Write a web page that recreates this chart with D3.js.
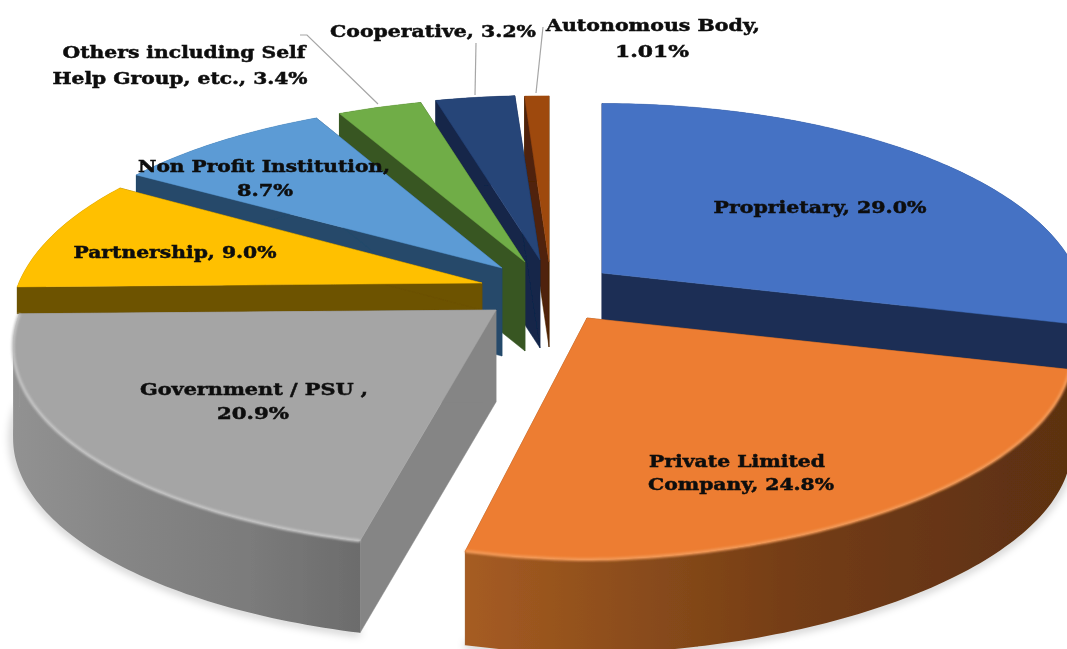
<!DOCTYPE html>
<html><head><meta charset="utf-8">
<script src="https://cdn.jsdelivr.net/npm/d3@7"></script>
<style>html,body{margin:0;padding:0;background:#fff;overflow:hidden}svg{display:block}</style>
</head><body><svg id="c" width="1067" height="649"></svg>
<script>
// ---- data ----
const categories = ["Proprietary","Private Limited Company","Government / PSU","Partnership","Non Profit Institution","Others including Self Help Group, etc.","Cooperative","Autonomous Body"];
const shares = [29.0,24.8,20.9,9.0,8.7,3.4,3.2,1.01];
// ---- style ----
const topColors  = ["#4472c4","#ed7d31","#a5a5a5","#ffc000","#5b9bd5","#70ad47","#264478","#9e480e"];
const sideColors = ["#1c2f55","#8a4a1c","#858585","#6d5200","#25496b","#385723","#13264a","#4f2407"];
// ---- layout of the exploded slices ----
const apexX = [602,587,496,482,502,525,540,549];
const apexY = [273,318,310,283,268,262,260,262];
const scaleRx = [1.015,1.02,1.015,0.99,1,1,1,0.97];
const scaleRy = [1,0.99,0.98,1,0.98,0.97,0.97,0.98];
const sinPower = [1,1.08,1,1,1,1,1,1];
const drawOrder = [7,6,5,4,3,2,0,1];
const RX=468, RY=200, PERSP=0.18, DEPTH=[62,94,92,27,88,89,88,85];
const labelLines = [
 {t:"Cooperative, 3.2%",x:433,y:37,w:206},
 {t:"Autonomous Body,",x:653,y:31,w:214},
 {t:"1.01%",x:652,y:57,w:74},
 {t:"Others including Self",x:184,y:58,w:243},
 {t:"Help Group, etc., 3.4%",x:180,y:84,w:255},
 {t:"Non Profit Institution,",x:264,y:172,w:252},
 {t:"8.7%",x:265,y:196,w:56},
 {t:"Partnership, 9.0%",x:175,y:258,w:203},
 {t:"Proprietary, 29.0%",x:820,y:213,w:213},
 {t:"Government / PSU ,",x:254,y:395,w:228},
 {t:"20.9%",x:253,y:419,w:72},
 {t:"Private Limited",x:737,y:467,w:176},
 {t:"Company, 24.8%",x:741,y:490,w:186}
];
const leaders = [
 [[300,35],[307,35],[378,104]],
 [[476,43],[475,95]],
 [[543,27],[536,93]]
];

const svg = d3.select("#c");
const defs = svg.append("defs");
function grad(id,stops){
  const g=defs.append("linearGradient").attr("id",id).attr("gradientUnits","userSpaceOnUse")
    .attr("x1",stops[0][0]).attr("x2",stops[stops.length-1][0]).attr("y1",0).attr("y2",0);
  const a=stops[0][0],b=stops[stops.length-1][0];
  stops.forEach(s=>g.append("stop").attr("offset",(s[0]-a)/(b-a)).attr("stop-color",s[1]));
  return `url(#${id})`;
}
const outerFill = {
  1: grad("gO",[[465,"#a65c22"],[640,"#8a4c1b"],[800,"#733c15"],[1067,"#5c3011"]]),
  2: grad("gG",[[10,"#929292"],[120,"#868686"],[250,"#7b7b7b"],[360,"#6c6c6c"]])
};
defs.append("filter").attr("id","soft").append("feGaussianBlur").attr("stdDeviation",0.5);
defs.append("filter").attr("id","soft2").append("feGaussianBlur").attr("stdDeviation",1.2);
defs.append("filter").attr("id","softText").append("feGaussianBlur").attr("stdDeviation",0.3);
defs.append("filter").attr("id","shadow").attr("x","-10%").attr("y","-30%").attr("width","120%").attr("height","160%")
  .append("feGaussianBlur").attr("stdDeviation",4);

const pie = d3.pie().sort(null).startAngle(0).endAngle(2*Math.PI).value(d=>d);
const arcs = pie(shares);

function project(i,theta,r){
  const c=Math.cos(theta), s=Math.sin(theta), k=1/(1+PERSP*c*r);
  const sp=Math.sign(s)*Math.pow(Math.abs(s),sinPower[i]);
  return [apexX[i]+RX*scaleRx[i]*r*sp*k, apexY[i]-RY*scaleRy[i]*r*c*k];
}
const line = d3.line();
const marks = svg.append("g").attr("filter","url(#soft)");

drawOrder.forEach(i=>{
  const a=arcs[i], n=Math.max(8,Math.round((a.endAngle-a.startAngle)*60));
  const arcPts=d3.range(n+1).map(j=>project(i,a.startAngle+(a.endAngle-a.startAngle)*j/n,1));
  const apex=project(i,0,0), d=DEPTH[i];
  const down=p=>[p[0],p[1]+d];
  const g=marks.append("g");
  if(i===1||i===2){
    g.append("path").attr("d",line(arcPts.map(down))).attr("fill","none")
      .attr("stroke","#000").attr("stroke-opacity",0.28).attr("stroke-width",5).attr("filter","url(#shadow)");
  }
  [arcPts[0],arcPts[n]].forEach(p=>{
    g.append("path").attr("d",line([apex,p,down(p),down(apex)])+"Z")
      .attr("fill",sideColors[i]).attr("stroke",sideColors[i]).attr("stroke-width",0.5);
  });
  const rim=outerFill[i]||sideColors[i];
  const rimPolys=[arcPts.concat(arcPts.map(down).reverse())];
  const left=arcPts[d3.leastIndex(arcPts,(u,v)=>u[0]-v[0])], right=arcPts[d3.greatestIndex(arcPts,p=>p[0])];
  [[left,arcPts[n]],[right,arcPts[0]]].forEach(([p,q])=>{ if(p!==q) rimPolys.push([p,q,down(q),down(p)]); });
  g.selectAll("path.rim").data(rimPolys).join("path").attr("class","rim")
    .attr("d",pts=>line(pts)+"Z").attr("fill",rim);
  g.append("path").attr("d",line([apex].concat(arcPts))+"Z")
    .attr("fill",topColors[i]).attr("stroke",topColors[i]).attr("stroke-width",0.5);
  if(i===1||i===2){
    g.append("path").attr("d",line(arcPts)).attr("fill","none")
      .attr("stroke",i===1?"#f39a58":"#c4c4c4").attr("stroke-width",3).attr("filter","url(#soft2)");
  }
});

svg.append("g").selectAll("path").data(leaders).join("path")
  .attr("d",d=>line(d)).attr("fill","none").attr("stroke","#a6a6a6").attr("stroke-width",1.2);

svg.append("g").attr("filter","url(#softText)").selectAll("text").data(labelLines).join("text")
  .attr("x",d=>d.x).attr("y",d=>d.y).attr("text-anchor","middle")
  .attr("textLength",d=>d.w).attr("lengthAdjust","spacingAndGlyphs")
  .attr("font-family","'DejaVu Serif',serif").attr("font-weight","bold").attr("font-size",17)
  .attr("fill","#0c0c0c").attr("stroke","#0c0c0c").attr("stroke-width",0.5).text(d=>d.t);
</script></body></html>
